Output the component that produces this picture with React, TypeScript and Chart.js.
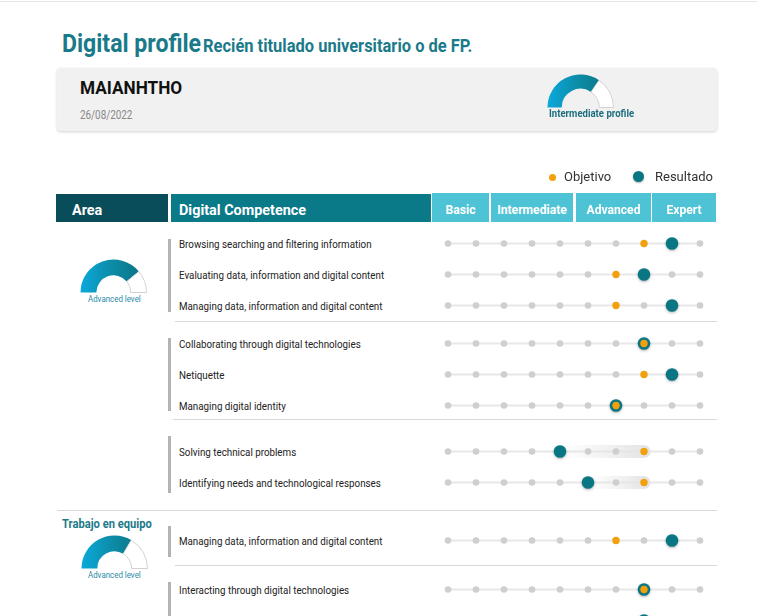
import React, { useEffect, useRef } from 'react';
import { Chart, registerables } from 'chart.js';
Chart.register(...registerables);

// ---------- data ----------
const TITLE = 'Digital profile';
const SUBTITLE = 'Recién titulado universitario o de FP.';
const USER_NAME = 'MAIANHTHO';
const REPORT_DATE = '26/08/2022';
const PROFILE_LABEL = 'Intermediate profile';
const PROFILE_VALUE = 0.69;
const LEGEND_LABELS = ['Objetivo', 'Resultado'];
const HEADER_LABELS = ['Area', 'Digital Competence'];
const LEVEL_LABELS = ['Basic', 'Intermediate', 'Advanced', 'Expert'];
const STEPS = [1, 2, 3, 4, 5, 6, 7, 8, 9, 10];
const COMPETENCES = [
  'Browsing searching and filtering information',
  'Evaluating data, information and digital content',
  'Managing data, information and digital content',
  'Collaborating through digital technologies',
  'Netiquette',
  'Managing digital identity',
  'Solving technical problems',
  'Identifying needs and technological responses',
  'Managing data, information and digital content',
  'Interacting through digital technologies',
  'Sharing through digital technologies',
];
const OBJETIVO = [8, 7, 7, 8, 8, 7, 8, 8, 7, 8, 8];
const RESULTADO = [9, 8, 9, 8, 9, 7, 5, 6, 9, 8, 8];
const GROUP_SIZES = [3, 3, 2, 1, 2];
const AREA_TITLES = ['', '', '', 'Trabajo en equipo', ''];
const AREA_LEVELS = ['Advanced level', '', '', 'Advanced level', ''];
const AREA_VALUES = [0.78, null, null, 0.67, null];

// ---------- layout / style ----------
const TEAL = '#0a7684';
const ORANGE = '#f2a10c';
const GRAY_DOT = '#cfcfcf';
const TRACK = '#e8e8e8';
const TITLE_C = '#1b7a89';
const FONT = 'Roboto, sans-serif';
const ROW_H = 31;
const GROUP_FIRST_Y = [243, 343, 451, 540, 589];
const GROUP_BARS = [[239, 312], [338, 411], [436, 493], [526, 557], [582, 660]];
const SEPARATORS = [[321, 175], [419, 173], [510, 57], [565, 175]];
const DOT_LEFT = 430;
const DOT_W = 290;
const STEP_PX = 28;
const FIRST_DOT_X = 448;
const LEVEL_BOXES = [[432, 57], [491, 82], [576, 75], [652, 64]];
const AREA_GAUGE_CENTERS = [[113.5, 292], null, null, [114, 568], null];

type TP = {
  left: number; cap: number; size: number; children: any; color?: string;
  weight?: number; sx?: number; width?: number; center?: boolean;
};
const Txt = ({ left, cap, size, children, color = '#222', weight = 400, sx = 1, width, center }: TP) => (
  <div
    style={{
      position: 'absolute', left, top: cap - 0.131 * size, width,
      textAlign: center ? 'center' : 'left', fontSize: size, lineHeight: `${size}px`,
      fontWeight: weight, color, whiteSpace: 'nowrap', fontFamily: FONT,
      transform: `scaleX(${sx})`, transformOrigin: center ? 'center' : 'left',
    }}
  >
    {children}
  </div>
);

function Gauge({ value, cx, cy, r, cutout }: { value: number; cx: number; cy: number; r: number; cutout: string }) {
  const ref = useRef<HTMLCanvasElement>(null);
  const w = Math.round(2 * r + 1);
  const h = Math.round(r + 1);
  useEffect(() => {
    const chart = new Chart(ref.current!, {
      type: 'doughnut',
      data: {
        labels: ['level', 'rest'],
        datasets: [{
          data: [value, 1 - value],
          backgroundColor: (c: any) => {
            if (c.dataIndex !== 0) return '#ffffff';
            const a = c.chart.chartArea;
            if (!a) return TEAL;
            const g = c.chart.ctx.createLinearGradient(a.left, 0, a.right, 0);
            g.addColorStop(0, '#0ba9dc');
            g.addColorStop(0.5, '#0c8aa3');
            g.addColorStop(1, '#0a6f80');
            return g;
          },
          borderColor: (c: any) => (c.dataIndex === 0 ? 'rgba(0,0,0,0)' : '#d2d2d2'),
          borderWidth: (c: any) => (c.dataIndex === 0 ? 0 : 1),
        }],
      },
      options: {
        responsive: false, animation: false, events: [],
        rotation: -90, circumference: 180, cutout,
        layout: { padding: 0 },
        plugins: { legend: { display: false }, tooltip: { enabled: false } },
      } as any,
    });
    return () => chart.destroy();
  }, []);
  return (
    <canvas ref={ref} width={w} height={h}
      style={{ position: 'absolute', left: cx - w / 2, top: cy - r - 0.5, width: w, height: h }} />
  );
}

function DotGroup({ labels, obj, res, top }: { labels: string[]; obj: number[]; res: number[]; top: number }) {
  const ref = useRef<HTMLCanvasElement>(null);
  const h = labels.length * ROW_H;
  useEffect(() => {
    const keys = labels.map((l, i) => `${i}:${l}`);
    const min = STEPS[0] - (FIRST_DOT_X - DOT_LEFT) / STEP_PX;
    const max = min + DOT_W / STEP_PX;
    const plugin = {
      id: 'tracks',
      beforeDatasetsDraw(chart: any) {
        const { ctx, scales } = chart;
        const x = scales.x, y = scales.y;
        keys.forEach((_k, i) => {
          const py = y.getPixelForValue(i);
          ctx.save();
          ctx.strokeStyle = TRACK;
          ctx.lineWidth = 2;
          ctx.beginPath();
          ctx.moveTo(x.getPixelForValue(STEPS[0]), py);
          ctx.lineTo(x.getPixelForValue(STEPS[STEPS.length - 1]), py);
          ctx.stroke();
          if (obj[i] > res[i]) {
            const x0 = x.getPixelForValue(res[i]);
            const x1 = x.getPixelForValue(obj[i]) + 6.5;
            const g = ctx.createLinearGradient(x0, 0, x1, 0);
            g.addColorStop(0, 'rgba(232,232,232,0)');
            g.addColorStop(1, 'rgba(226,226,226,1)');
            ctx.fillStyle = g;
            ctx.beginPath();
            const hh = 6.5;
            ctx.moveTo(x0, py - hh);
            ctx.lineTo(x1 - hh, py - hh);
            ctx.arc(x1 - hh, py, hh, -Math.PI / 2, Math.PI / 2);
            ctx.lineTo(x0, py + hh);
            ctx.closePath();
            ctx.fill();
          }
          ctx.restore();
        });
      },
      beforeDatasetDraw(chart: any, args: any) {
        if (args.index === 1) {
          const ctx = chart.ctx;
          ctx.save();
          ctx.shadowColor = 'rgba(0,0,0,0.3)';
          ctx.shadowBlur = 3;
          ctx.shadowOffsetY = 1;
        }
      },
      afterDatasetDraw(chart: any, args: any) {
        if (args.index === 1) chart.ctx.restore();
      },
    };
    const chart = new Chart(ref.current!, {
      type: 'scatter',
      data: {
        // Chart.js paints the first dataset on top
        datasets: [
          {
            label: LEGEND_LABELS[0],
            data: keys.map((k, i) => ({ x: obj[i], y: k })),
            pointBackgroundColor: ORANGE, backgroundColor: ORANGE, pointBorderWidth: 0, borderWidth: 0, pointRadius: 3.7, clip: false,
          },
          {
            label: LEGEND_LABELS[1],
            data: keys.map((k, i) => ({ x: res[i], y: k })),
            pointBackgroundColor: TEAL, backgroundColor: TEAL, pointBorderWidth: 0, borderWidth: 0, pointRadius: 6.3, clip: false,
          },
          {
            label: 'steps',
            data: keys.flatMap((k) => STEPS.map((s) => ({ x: s, y: k }))),
            pointBackgroundColor: GRAY_DOT, backgroundColor: GRAY_DOT, pointBorderWidth: 0, borderWidth: 0, pointRadius: 3.3, clip: false,
          },
        ] as any,
      },
      options: {
        responsive: false, animation: false, events: [],
        layout: { padding: 0, autoPadding: false },
        scales: {
          x: { type: 'linear', min, max, display: false },
          y: { type: 'category', labels: keys, offset: true, display: false },
        },
        plugins: { legend: { display: false }, tooltip: { enabled: false } },
      } as any,
      plugins: [plugin],
    });
    return () => chart.destroy();
  }, []);
  return (
    <canvas ref={ref} width={DOT_W} height={h}
      style={{ position: 'absolute', left: DOT_LEFT, top, width: DOT_W, height: h }} />
  );
}

export default function App() {
  let start = 0;
  const groups = GROUP_SIZES.map((n, gi) => {
    const s = start;
    start += n;
    return {
      gi,
      labels: COMPETENCES.slice(s, s + n),
      obj: OBJETIVO.slice(s, s + n),
      res: RESULTADO.slice(s, s + n),
    };
  });
  return (
    <div style={{ position: 'absolute', left: 0, top: 0, width: 760, height: 616, overflow: 'hidden', background: '#fff', fontFamily: FONT }}>
      <div style={{ position: 'absolute', left: 0, top: 1, width: 757, height: 1, background: '#e6e6e6' }} />
      <Txt left={62} cap={33} size={26.5} weight={700} color={TITLE_C} sx={0.87}>{TITLE}</Txt>
      <Txt left={203} cap={39} size={18} weight={700} color={TITLE_C} sx={0.915}>{SUBTITLE}</Txt>

      <div style={{ position: 'absolute', left: 57, top: 68, width: 660, height: 63, background: '#f1f1f1', borderRadius: 4, boxShadow: '0 1px 3px rgba(0,0,0,0.18)' }} />
      <Txt left={80} cap={81} size={18.5} weight={700} color="#111" sx={0.93}>{USER_NAME}</Txt>
      <Txt left={80} cap={110.7} size={12} color="#888" sx={0.82}>{REPORT_DATE}</Txt>
      <Gauge value={PROFILE_VALUE} cx={580.5} cy={107} r={33} cutout="57%" />
      <Txt left={549} cap={110} size={10.3} weight={700} color="#1d6d7e" sx={0.93}>{PROFILE_LABEL}</Txt>

      <div style={{ position: 'absolute', left: 548.5, top: 173.5, width: 7, height: 7, borderRadius: '50%', background: ORANGE }} />
      <Txt left={564} cap={171.7} size={13} color="#333">{LEGEND_LABELS[0]}</Txt>
      <div style={{ position: 'absolute', left: 633, top: 171, width: 11, height: 11, borderRadius: '50%', background: TEAL, boxShadow: '0 1px 2px rgba(0,0,0,0.3)' }} />
      <Txt left={655} cap={171.7} size={13} color="#333">{LEGEND_LABELS[1]}</Txt>

      <div style={{ position: 'absolute', left: 56, top: 194, width: 112, height: 28, background: '#0a4d5a' }} />
      <div style={{ position: 'absolute', left: 171, top: 194, width: 260, height: 28, background: '#0a7988' }} />
      <Txt left={71.5} cap={204.5} size={15} weight={700} color="#fff" sx={0.96}>{HEADER_LABELS[0]}</Txt>
      <Txt left={179} cap={204.5} size={15} weight={700} color="#fff" sx={0.96}>{HEADER_LABELS[1]}</Txt>
      {LEVEL_LABELS.map((l, i) => (
        <React.Fragment key={l}>
          <div style={{ position: 'absolute', left: LEVEL_BOXES[i][0], top: 193, width: LEVEL_BOXES[i][1], height: 29, background: '#4dc3d5' }} />
          <Txt left={LEVEL_BOXES[i][0]} width={LEVEL_BOXES[i][1]} center cap={205.5} size={12.5} weight={700} color="#fff" sx={0.97}>{l}</Txt>
        </React.Fragment>
      ))}

      {SEPARATORS.map(([y, x0], i) => (
        <div key={'s' + i} style={{ position: 'absolute', left: x0, top: y - 0.5, width: 717 - x0, height: 1.5, background: '#d9d9d9' }} />
      ))}

      {groups.map((g) => (
        <React.Fragment key={'g' + g.gi}>
          <div style={{ position: 'absolute', left: 168, top: GROUP_BARS[g.gi][0], width: 2.5, height: GROUP_BARS[g.gi][1] - GROUP_BARS[g.gi][0], background: '#b3b3b3' }} />
          {g.labels.map((l, i) => (
            <Txt key={i} left={179} cap={GROUP_FIRST_Y[g.gi] + i * ROW_H - 3} size={11} color="#222" sx={0.89}>{l}</Txt>
          ))}
          <DotGroup labels={g.labels} obj={g.obj} res={g.res} top={GROUP_FIRST_Y[g.gi] - ROW_H / 2} />
          {AREA_TITLES[g.gi] && (
            <Txt left={62} cap={520} size={12} weight={700} color={TITLE_C} sx={0.93}>{AREA_TITLES[g.gi]}</Txt>
          )}
          {AREA_VALUES[g.gi] != null && AREA_GAUGE_CENTERS[g.gi] && (
            <>
              <Gauge value={AREA_VALUES[g.gi] as number} cx={AREA_GAUGE_CENTERS[g.gi]![0]} cy={AREA_GAUGE_CENTERS[g.gi]![1]} r={33} cutout="52%" />
              <Txt left={88} cap={AREA_GAUGE_CENTERS[g.gi]![1] + 4} size={8.6} color="#2a8aa6" sx={0.92}>{AREA_LEVELS[g.gi]}</Txt>
            </>
          )}
        </React.Fragment>
      ))}
    </div>
  );
}
